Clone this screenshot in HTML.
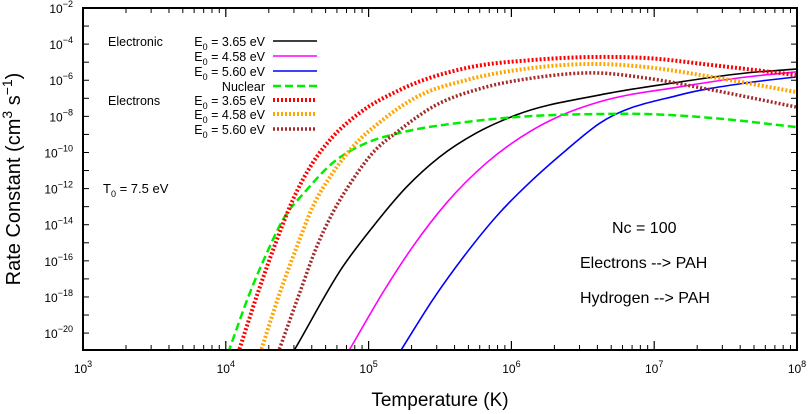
<!DOCTYPE html>
<html><head><meta charset="utf-8"><style>
html,body{margin:0;padding:0;background:#fff;width:809px;height:414px;overflow:hidden}
svg{font-family:"Liberation Sans",sans-serif;display:block}
</style></head><body>
<svg id="chart" width="809" height="414" viewBox="0 0 809 414">
<defs><clipPath id="plotclip"><rect x="83" y="8" width="714" height="342"/></clipPath></defs>
<g id="series" clip-path="url(#plotclip)"></g>
<rect x="83" y="8" width="714" height="342" fill="none" stroke="#000" stroke-width="2"/>
<g id="ticks"></g>
<g id="legend"></g>
<text x="20" y="179" font-size="20" text-anchor="middle" transform="rotate(-90 20 179)">Rate Constant  (cm<tspan font-size="14" dy="-8">3</tspan><tspan dy="8"> s</tspan><tspan font-size="14" dy="-8">−1</tspan><tspan dy="8">)</tspan></text>
<text x="440" y="406" font-size="19" text-anchor="middle">Temperature  (K)</text>
<text x="103" y="193" font-size="13">T<tspan font-size="9" dy="4">0</tspan><tspan dy="-4"> = 7.5 eV</tspan></text>
<text x="612" y="233" font-size="16">Nc = 100</text>
<text x="580" y="268" font-size="16">Electrons  --&gt; PAH</text>
<text x="580" y="303" font-size="16">Hydrogen --&gt; PAH</text>
</svg>
<script>
// log10(T) and log10(rate)
const elec365T = [4.494,4.818,5.028,5.266,5.497,5.755,6.035,6.615,7.175,7.643,7.993];
const elec365K = [-20.75,-16.34,-14.13,-11.91,-10.25,-8.92,-7.92,-6.82,-6.10,-5.60,-5.38];
const elec458T = [4.879,5.098,5.308,5.545,5.825,6.147,6.357,6.615,7.175,7.643,7.993];
const elec458K = [-20.75,-17.78,-15.23,-12.80,-10.58,-8.76,-7.92,-7.20,-6.37,-5.82,-5.54];
const elec560T = [5.236,5.448,5.685,5.916,6.147,6.385,6.615,7.175,7.643,7.993];
const elec560K = [-20.83,-18.17,-15.57,-13.35,-11.52,-9.86,-8.40,-6.82,-6.15,-5.82];
const nuclearT = [4.028,4.168,4.287,4.399,4.566,4.748,4.986,5.217,5.685,6.147,6.615,6.944,7.406,7.993];
const nuclearK = [-20.83,-17.78,-15.57,-13.74,-12.08,-10.58,-9.47,-8.92,-8.31,-7.98,-7.87,-7.87,-8.09,-8.59];
const ele365T = [4.098,4.224,4.357,4.469,4.608,4.748,4.937,5.217,5.685,6.147,6.615,6.944,7.406,7.993];
const ele365K = [-20.83,-17.78,-14.85,-12.63,-10.58,-9.14,-7.81,-6.54,-5.32,-4.88,-4.71,-4.77,-5.16,-5.71];
const ele458T = [4.252,4.378,4.497,4.608,4.748,4.888,5.098,5.336,5.685,6.147,6.615,6.944,7.406,7.993];
const ele458K = [-20.83,-17.78,-15.23,-13.02,-11.14,-9.70,-8.20,-6.93,-5.99,-5.32,-5.10,-5.27,-5.82,-6.65];
const ele560T = [4.378,4.517,4.636,4.748,4.888,5.028,5.217,5.448,5.797,6.147,6.615,6.944,7.406,7.993];
const ele560K = [-20.83,-17.78,-15.23,-13.35,-11.52,-10.03,-8.76,-7.48,-6.43,-5.88,-5.60,-5.88,-6.54,-7.48];
const xTickExps = [3,4,5,6,7,8];
const yTickExps = [-2,-4,-6,-8,-10,-12,-14,-16,-18,-20];
const legendLabels = ["E0 = 3.65 eV","E0 = 4.58 eV","E0 = 5.60 eV","Nuclear","E0 = 3.65 eV","E0 = 4.58 eV","E0 = 5.60 eV"];

const NS="http://www.w3.org/2000/svg";
const X0=83,X1=797,Y0=8,Y1=350, LXMIN=3,LXMAX=8, LYMAX=-2, PPD=18.06;
const xs=l=>X0+(l-LXMIN)/(LXMAX-LXMIN)*(X1-X0);
const ys=l=>Y0+(LYMAX-l)*PPD;
function mk(t,attrs,parent){const e=document.createElementNS(NS,t);for(const k in attrs)e.setAttribute(k,attrs[k]);parent.appendChild(e);return e;}
function hermite(pts){
 const n=pts.length,sec=[],m=[];
 for(let i=0;i<n-1;i++)sec.push((pts[i+1][1]-pts[i][1])/(pts[i+1][0]-pts[i][0]));
 for(let i=0;i<n;i++){
  if(i===0)m.push(sec[0]);else if(i===n-1)m.push(sec[n-2]);
  else{const h0=pts[i][0]-pts[i-1][0],h1=pts[i+1][0]-pts[i][0];m.push((sec[i-1]*h1+sec[i]*h0)/(h0+h1));}
 }
 const dy=Math.max(0,Y1+3-pts[0][1]);
 const dx=dy/Math.max(0.1,-sec[0]);
 let d=`M${pts[0][0]-dx},${pts[0][1]+dy}L${pts[0][0]},${pts[0][1]}`;
 for(let i=0;i<n-1;i++){const h=pts[i+1][0]-pts[i][0];
  d+=`C${pts[i][0]+h/3},${pts[i][1]+m[i]*h/3} ${pts[i+1][0]-h/3},${pts[i+1][1]-m[i+1]*h/3} ${pts[i+1][0]},${pts[i+1][1]}`;}
 return d;
}
const styles=[
 {T:elec365T,K:elec365K,c:"#000",w:1.6,da:"",n:"electronic-3-65-line"},
 {T:elec458T,K:elec458K,c:"#ff00ff",w:1.6,da:"",n:"electronic-4-58-line"},
 {T:elec560T,K:elec560K,c:"#0000ff",w:1.6,da:"",n:"electronic-5-60-line"},
 {T:nuclearT,K:nuclearK,c:"#00ee00",w:2.5,da:"8,4",n:"nuclear-line"},
 {T:ele365T,K:ele365K,c:"#ff0000",w:4,da:"2,2",n:"electrons-3-65-line"},
 {T:ele458T,K:ele458K,c:"#ffa500",w:4,da:"2,2",n:"electrons-4-58-line"},
 {T:ele560T,K:ele560K,c:"#a52a2a",w:3.5,da:"2,2",n:"electrons-5-60-line"}];
const sg=document.getElementById('series');
styles.forEach(s=>{
 const pts=s.T.map((t,i)=>[xs(t),ys(s.K[i])]);
 const p=mk('path',{d:hermite(pts),fill:"none",stroke:s.c,"stroke-width":s.w,"stroke-dasharray":s.da},sg);
 
 
});
const tg=document.getElementById('ticks');
xTickExps.forEach((e,i)=>{
 const x=xs(e);
 mk('line',{x1:x,x2:x,y1:Y1,y2:Y1-9,stroke:"#000","stroke-width":1.2},tg);
 mk('line',{x1:x,x2:x,y1:Y0,y2:Y0+9,stroke:"#000","stroke-width":1.2},tg);
 const t=mk('text',{x:x,y:373,"font-size":12,"text-anchor":"middle"},tg);
 
 
 t.innerHTML=`10<tspan font-size="9" dy="-6">${e}</tspan>`;
 if(i<xTickExps.length-1)for(let m=2;m<10;m++){const xm=xs(e+Math.log10(m));
  mk('line',{x1:xm,x2:xm,y1:Y1,y2:Y1-5,stroke:"#000","stroke-width":1},tg);
  mk('line',{x1:xm,x2:xm,y1:Y0,y2:Y0+5,stroke:"#000","stroke-width":1},tg);}
});
for(let e=-3;e>=-20;e--){const y=ys(e);
 mk('line',{x1:X0,x2:X0+6,y1:y,y2:y,stroke:"#000","stroke-width":1},tg);
 mk('line',{x1:X1,x2:X1-6,y1:y,y2:y,stroke:"#000","stroke-width":1},tg);}
yTickExps.forEach(e=>{const y=ys(e);
 const t=mk('text',{x:73,y:y+5,"font-size":12,"text-anchor":"end"},tg);
 
 
 t.innerHTML=`10<tspan font-size="9" dy="-6">${e.toString().replace('-','−')}</tspan>`;});
const lg=document.getElementById('legend');
const rowY=[41,56,71,86,100,114,129];
legendLabels.forEach((lab,i)=>{
 const s=styles[i],y=rowY[i];
 const t=mk('text',{x:265,y:y+5,"font-size":12.5,"text-anchor":"end"},lg);
 
 
 t.innerHTML=lab.startsWith("E0")?`E<tspan font-size="9" dy="4">0</tspan><tspan dy="-4">${lab.slice(2)}</tspan>`:lab;
 const l=mk('line',{x1:273,x2:317,y1:y,y2:y,stroke:s.c,"stroke-width":s.w,"stroke-dasharray":s.da},lg);
 
 
});
const g1=mk('text',{x:108,y:46,"font-size":12.5},lg);g1.textContent="Electronic";


const g2=mk('text',{x:108,y:105,"font-size":12.5},lg);g2.textContent="Electrons";


</script>
</body></html>
